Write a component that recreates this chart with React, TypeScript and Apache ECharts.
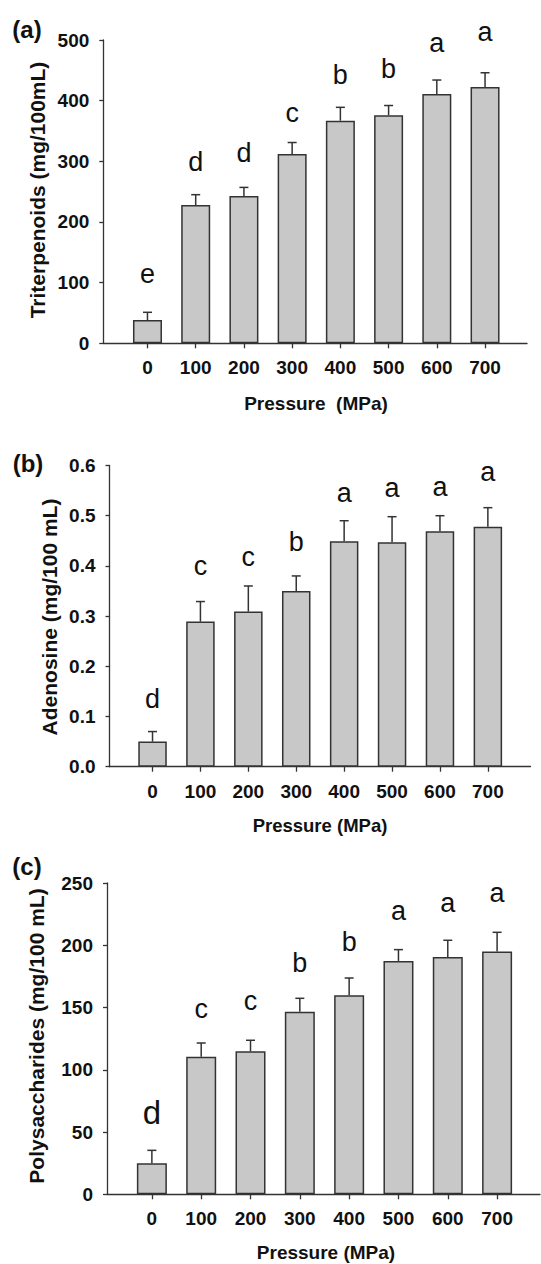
import React, { useEffect, useRef } from "react";
import * as echarts from "echarts";

const pressures = [0, 100, 200, 300, 400, 500, 600, 700];

const triMeans = [38.4, 228, 243, 312, 367, 376, 411, 422.5];
const triErrs = [12.7, 17, 14, 19, 22, 16, 23, 23.5];
const triLetters = ["e", "d", "d", "c", "b", "b", "a", "a"];
const triLetterY = [115, 299, 313, 379, 442, 452, 495, 513];

const adeMeans = [0.05, 0.289, 0.309, 0.35, 0.449, 0.447, 0.469, 0.478];
const adeErrs = [0.02, 0.04, 0.051, 0.03, 0.041, 0.051, 0.031, 0.038];
const adeLetters = ["d", "c", "c", "b", "a", "a", "a", "a"];
const adeLetterY = [0.134, 0.399, 0.417, 0.448, 0.546, 0.556, 0.558, 0.588];

const polyMeans = [24.9, 110.5, 114.8, 146.7, 159.8, 187.4, 190.6, 194.9];
const polyErrs = [10.4, 11, 8.9, 10.7, 13.9, 9.1, 13.4, 15.5];
const polyLetters = ["d", "c", "c", "b", "b", "a", "a", "a"];
const polyLetterY = [66, 149, 155, 185.5, 203, 227.5, 233.7, 242];

const FONT = "'Liberation Sans', Arial, Helvetica, sans-serif";
const INK = "#333";

export default function App() {
  const ref = useRef<HTMLDivElement>(null);

  useEffect(() => {
    document.body.style.margin = "0";
    if (!ref.current) return;
    const chart = echarts.init(ref.current, undefined, { renderer: "svg" });

    const panels = [
      {
        grid: { left: 103.3, top: 40, width: 423.7, height: 303.3 },
        xMin: -91.6, xMax: 787,
        yMax: 500, yInt: 100, fmt: (v: number) => String(v),
        means: triMeans, errs: triErrs, letters: triLetters, letterY: triLetterY,
        barWidth: 29, bigFirst: false,
      },
      {
        grid: { left: 109.5, top: 465.5, width: 421, height: 301.2 },
        xMin: -89.8, xMax: 789,
        yMax: 0.6, yInt: 0.1, fmt: (v: number) => v.toFixed(1),
        means: adeMeans, errs: adeErrs, letters: adeLetters, letterY: adeLetterY,
        barWidth: 28.5, bigFirst: false,
      },
      {
        grid: { left: 107, top: 883, width: 433, height: 311.3 },
        xMin: -91, xMax: 787,
        yMax: 250, yInt: 50, fmt: (v: number) => String(v),
        means: polyMeans, errs: polyErrs, letters: polyLetters, letterY: polyLetterY,
        barWidth: 30, bigFirst: true,
      },
    ];

    const grid: any[] = [];
    const xAxis: any[] = [];
    const yAxis: any[] = [];
    const series: any[] = [];

    panels.forEach((p, i) => {
      grid.push({ ...p.grid, containLabel: false });
      xAxis.push({
        type: "value",
        gridIndex: i,
        min: p.xMin,
        max: p.xMax,
        splitLine: { show: false },
        axisLine: { show: true, onZero: false, lineStyle: { color: INK, width: 1.3 } },
        axisTick: {
          show: true,
          customValues: pressures,
          length: 5,
          lineStyle: { color: INK, width: 1.3 },
        },
        axisLabel: {
          show: true,
          customValues: pressures,
          margin: 15,
          fontFamily: FONT,
          fontWeight: "bold",
          fontSize: 19,
          color: "#111",
        },
      });
      yAxis.push({
        type: "value",
        gridIndex: i,
        min: 0,
        max: p.yMax,
        interval: p.yInt,
        splitLine: { show: false },
        axisLine: { show: true, onZero: false, lineStyle: { color: INK, width: 1.3 } },
        axisTick: { show: true, length: 4, lineStyle: { color: INK, width: 1.3 } },
        axisLabel: {
          margin: 14,
          formatter: p.fmt,
          fontFamily: FONT,
          fontWeight: "bold",
          fontSize: 19,
          color: "#111",
        },
      });
      series.push({
        type: "bar",
        xAxisIndex: i,
        yAxisIndex: i,
        barWidth: p.barWidth,
        data: pressures.map((x, k) => [x, p.means[k]]),
        itemStyle: { color: "#c8c8c8", borderColor: INK, borderWidth: 1.5 },
        z: 2,
      });
      series.push({
        type: "custom",
        xAxisIndex: i,
        yAxisIndex: i,
        data: pressures.map((x, k) => [x, p.means[k], p.means[k] + p.errs[k]]),
        encode: { x: 0, y: [1, 2] },
        z: 3,
        renderItem: (params: any, api: any) => {
          const x = api.value(0);
          const a = api.coord([x, api.value(1)]);
          const b = api.coord([x, api.value(2)]);
          const style = { stroke: INK, lineWidth: 1.5 };
          return {
            type: "group",
            children: [
              { type: "line", shape: { x1: a[0], y1: a[1], x2: b[0], y2: b[1] }, style },
              { type: "line", shape: { x1: b[0] - 4.5, y1: b[1], x2: b[0] + 4.5, y2: b[1] }, style },
            ],
          };
        },
      });
      series.push({
        type: "custom",
        xAxisIndex: i,
        yAxisIndex: i,
        clip: false,
        data: pressures.map((x, k) => [x, p.letterY[k], k]),
        encode: { x: 0, y: 1 },
        z: 4,
        renderItem: (params: any, api: any) => {
          const k = api.value(2);
          const c = api.coord([api.value(0), api.value(1)]);
          const big = p.bigFirst && k === 0;
          return {
            type: "text",
            x: c[0],
            y: c[1],
            style: {
              text: p.letters[k],
              fill: "#111",
              font: `${big ? 33 : 27}px ${FONT}`,
              align: "center",
              verticalAlign: "middle",
            },
          };
        },
      });
    });

    const titleStyle = (text: string, size: number) => ({
      text,
      fill: "#111",
      font: `bold ${size}px ${FONT}`,
      align: "center",
      verticalAlign: "middle",
    });

    const graphic: any[] = [
      { type: "text", x: 27, y: 29, style: titleStyle("(a)", 24) },
      { type: "text", x: 28, y: 463, style: titleStyle("(b)", 24) },
      { type: "text", x: 27, y: 866, style: titleStyle("(c)", 24) },
      { type: "text", x: 37, y: 190, rotation: Math.PI / 2, style: titleStyle("Triterpenoids (mg/100mL)", 21) },
      { type: "text", x: 49.5, y: 617, rotation: Math.PI / 2, style: titleStyle("Adenosine (mg/100 mL)", 21) },
      { type: "text", x: 36.4, y: 1036, rotation: Math.PI / 2, style: titleStyle("Polysaccharides (mg/100 mL)", 21) },
      { type: "text", x: 316, y: 403, style: titleStyle("Pressure  (MPa)", 19) },
      { type: "text", x: 320, y: 825, style: titleStyle("Pressure (MPa)", 18.5) },
      { type: "text", x: 326, y: 1252, style: titleStyle("Pressure (MPa)", 19) },
    ];

    chart.setOption({
      animation: false,
      backgroundColor: "#fff",
      grid,
      xAxis,
      yAxis,
      series,
      graphic,
    });

    return () => chart.dispose();
  }, []);

  return <div ref={ref} style={{ width: 541, height: 1264 }} />;
}
